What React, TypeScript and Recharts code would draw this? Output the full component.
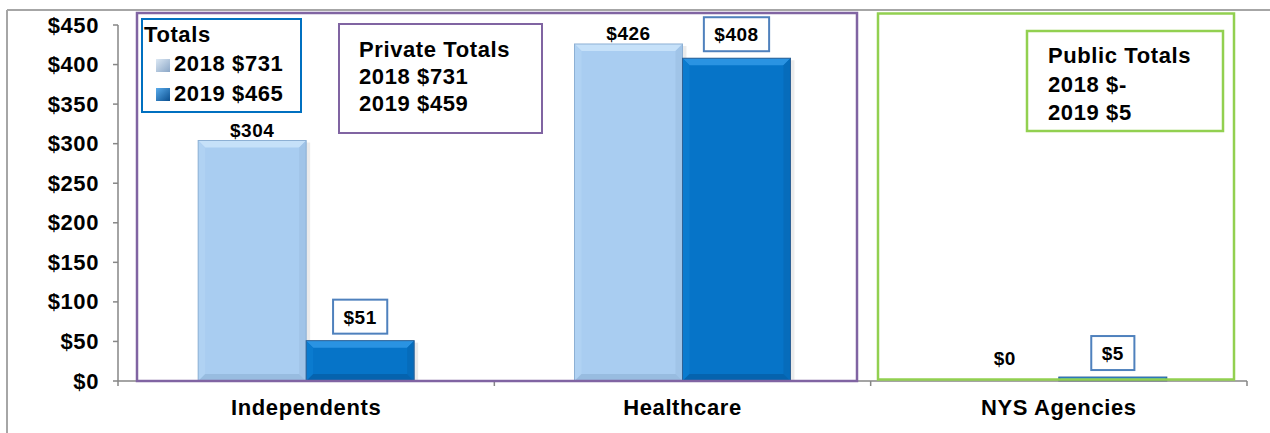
import { BarChart, Bar, XAxis, YAxis, Legend, LabelList } from 'recharts';

const CATEGORIES = ['Independents', 'Healthcare', 'NYS Agencies'];
const VALUES_2018 = [304, 426, 0];
const VALUES_2019 = [51, 408, 5];
const Y_TICKS = [0, 50, 100, 150, 200, 250, 300, 350, 400, 450];
const SERIES_NAMES = ['2018', '2019'];
const SERIES_TOTALS = [731, 465];
const PRIVATE_LINES = ['Private Totals', '2018 $731', '2019 $459'];
const PUBLIC_LINES = ['Public Totals', '2018 $-', '2019 $5'];

const FONT = '"Liberation Sans", Arial, sans-serif';
const CHART_W = 1270;
const CHART_H = 433;
const MARGIN = { top: 25, right: 23, bottom: 12, left: 0 };
const Y_AXIS_W = 118;
const PLOT_W = CHART_W - MARGIN.right - Y_AXIS_W;
const AXIS_GRAY = '#868686';

const data = CATEGORIES.map((name, i) => ({
  name,
  y2018: VALUES_2018[i],
  y2019: VALUES_2019[i],
}));

const PALETTE: Record<string, { base: string; top: string; left: string; right: string; bottom: string; edge: string }> = {
  light: { base: '#A9CDF1', top: '#C6E1F9', left: '#B0D2F3', right: '#A0C4E8', bottom: '#98BCE0', edge: '#8DB0D4' },
  dark: { base: '#0674C8', top: '#2A93E2', left: '#0A7BCF', right: '#066CBB', bottom: '#0563AE', edge: '#2F6296' },
};

function BevelBar(props: any) {
  const { x, y, width, height, tone } = props;
  if (!height || height <= 0) return null;
  const c = PALETTE[tone];
  const b = Math.min(7, height / 2, width / 2);
  const x2 = x + width;
  const y2 = y + height;
  return (
    <g>
      <rect x={x + 2} y={y + 2} width={width + 2} height={height - 2} fill="#000" opacity={0.08} />
      <rect x={x} y={y} width={width} height={height} fill={c.base} />
      <polygon points={`${x},${y} ${x2},${y} ${x2 - b},${y + b} ${x + b},${y + b}`} fill={c.top} />
      <polygon points={`${x},${y} ${x + b},${y + b} ${x + b},${y2 - b} ${x},${y2}`} fill={c.left} />
      <polygon points={`${x2},${y} ${x2 - b},${y + b} ${x2 - b},${y2 - b} ${x2},${y2}`} fill={c.right} />
      <polygon points={`${x},${y2} ${x2},${y2} ${x2 - b},${y2 - b} ${x + b},${y2 - b}`} fill={c.bottom} />
      <rect x={x} y={y} width={width} height={height} fill="none" stroke={c.edge} strokeWidth={1} />
    </g>
  );
}

function PlainLabel(props: any) {
  const { x, y, width, value } = props;
  const baseline = value === 0 ? y - 16 : y - 4;
  return (
    <text x={x + width / 2} y={baseline} textAnchor="middle" fontFamily={FONT} fontWeight="bold"
      fontSize={19} letterSpacing={0.5} fill="#000">
      {`$${value}`}
    </text>
  );
}

function BoxedLabel(props: any) {
  const { x, y, width, value } = props;
  const label = `$${value}`;
  const boxW = label.length * (0.556 * 19 + 0.5) + 21;
  const boxH = 34;
  const cx = x + width / 2;
  const top = y - 7 - boxH;
  return (
    <g>
      <rect x={cx - boxW / 2} y={top} width={boxW} height={boxH} fill="#fff" stroke="#4F81BD" strokeWidth={2} />
      <text x={cx} y={top + 24} textAnchor="middle" fontFamily={FONT} fontWeight="bold"
        fontSize={19} letterSpacing={0.5} fill="#000">
        {label}
      </text>
    </g>
  );
}

function YTick(props: any) {
  const { x, y, payload } = props;
  return (
    <text x={x} y={y} dy={7.5} textAnchor="end" fontFamily={FONT} fontWeight="bold" fontSize={22}
      letterSpacing={0.6} fill="#000">
      {`$${payload.value}`}
    </text>
  );
}

function XTick(props: any) {
  const { x, y, payload, index } = props;
  const band = PLOT_W / CATEGORIES.length;
  return (
    <g>
      {index === 0 && <line x1={x - band / 2} y1={y} x2={x - band / 2} y2={y + 5} stroke={AXIS_GRAY} strokeWidth={1.5} />}
      <line x1={x + band / 2} y1={y} x2={x + band / 2} y2={y + 5} stroke={AXIS_GRAY} strokeWidth={1.5} />
      <text x={x} y={y + 34} textAnchor="middle" fontFamily={FONT} fontWeight="bold" fontSize={22}
        letterSpacing={0.6} fill="#000">
        {payload.value}
      </text>
    </g>
  );
}

function TotalsLegend(props: any) {
  const payload = props.payload || [];
  return (
    <svg width={161} height={95} style={{ display: 'block' }}>
      <defs>
        <linearGradient id="lg-light" x1="0" y1="0" x2="1" y2="1">
          <stop offset="0" stopColor="#DCE8F4" />
          <stop offset="1" stopColor="#8AA6C6" />
        </linearGradient>
        <linearGradient id="lg-dark" x1="0" y1="0" x2="1" y2="1">
          <stop offset="0" stopColor="#5AACEC" />
          <stop offset="1" stopColor="#0A4E8E" />
        </linearGradient>
      </defs>
      <rect x={1} y={1} width={159} height={93} fill="#fff" stroke="#0070C0" strokeWidth={2} />
      <text x={3} y={24} fontFamily={FONT} fontWeight="bold" fontSize={22} letterSpacing={0.6} fill="#000">
        Totals
      </text>
      {payload.map((entry: any, i: number) => (
        <g key={entry.value}>
          <rect x={15} y={41 + i * 29} width={14} height={13} fill={i === 0 ? 'url(#lg-light)' : 'url(#lg-dark)'} />
          <text x={33} y={53 + i * 30} fontFamily={FONT} fontWeight="bold" fontSize={22} letterSpacing={0.6} fill="#000">
            {`${entry.value} $${SERIES_TOTALS[i]}`}
          </text>
        </g>
      ))}
    </svg>
  );
}

function Annotations() {
  const txt = { fontFamily: FONT, fontWeight: 'bold' as const, fontSize: 22, letterSpacing: 0.6, fill: '#000' };
  return (
    <svg width={CHART_W} height={CHART_H} style={{ position: 'absolute', left: 0, top: 0, pointerEvents: 'none' }}>
      <line x1={7} y1={10} x2={CHART_W} y2={10} stroke="#A6A6A6" strokeWidth={2} />
      <line x1={7} y1={10} x2={7} y2={CHART_H} stroke="#A6A6A6" strokeWidth={2} />
      <rect x={137} y={13} width={720} height={368} fill="none" stroke="#8064A2" strokeWidth={2.5} />
      <rect x={878} y={13.5} width={356} height={366} fill="none" stroke="#92D050" strokeWidth={2.5} />
      <rect x={339} y={24} width={203} height={109} fill="none" stroke="#8064A2" strokeWidth={2} />
      {PRIVATE_LINES.map((line, i) => (
        <text key={line} x={359} y={57 + i * 27} {...txt}>{line}</text>
      ))}
      <rect x={1027} y={31} width={196} height={100} fill="none" stroke="#92D050" strokeWidth={2.5} />
      {PUBLIC_LINES.map((line, i) => (
        <text key={line} x={1048} y={63 + i * 28.5} {...txt}>{line}</text>
      ))}
    </svg>
  );
}

export default function App() {
  return (
    <div style={{ position: 'absolute', left: 0, top: 0, width: CHART_W, height: CHART_H, background: '#fff' }}>
      <BarChart width={CHART_W} height={CHART_H} data={data} margin={MARGIN} barGap={0} barCategoryGap="21.3%">
        <XAxis dataKey="name" height={40} interval={0} tickSize={0} tickMargin={0} tickLine={false}
          axisLine={{ stroke: AXIS_GRAY, strokeWidth: 1.5 }} tick={<XTick />} />
        <YAxis width={Y_AXIS_W} domain={[0, 450]} ticks={Y_TICKS} interval={0} tickSize={5} tickMargin={14}
          axisLine={{ stroke: AXIS_GRAY, strokeWidth: 1.5 }} tickLine={{ stroke: AXIS_GRAY, strokeWidth: 1.5 }}
          tick={<YTick />} />
        <Legend layout="horizontal" align="center" verticalAlign="middle"
          wrapperStyle={{ left: 141, top: 18, width: 161, height: 95 }} content={<TotalsLegend />} />
        <Bar dataKey="y2018" name={SERIES_NAMES[0]} fill="#A9CDF1" isAnimationActive={false}
          shape={(p: any) => <BevelBar {...p} tone="light" />}>
          <LabelList dataKey="y2018" content={<PlainLabel />} />
        </Bar>
        <Bar dataKey="y2019" name={SERIES_NAMES[1]} fill="#0674C8" isAnimationActive={false}
          shape={(p: any) => <BevelBar {...p} tone="dark" />}>
          <LabelList dataKey="y2019" content={<BoxedLabel />} />
        </Bar>
      </BarChart>
      <Annotations />
    </div>
  );
}
